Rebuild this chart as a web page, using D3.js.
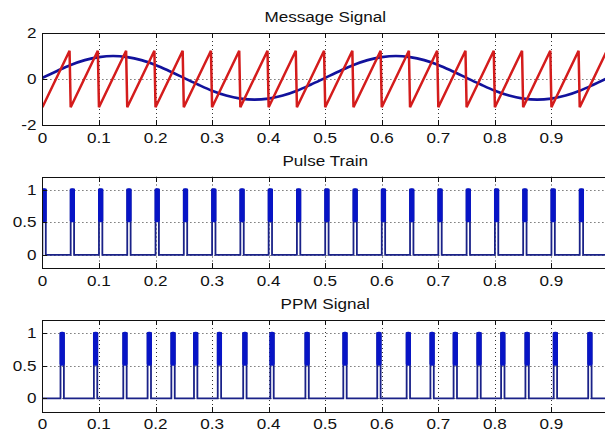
<!DOCTYPE html>
<html>
<head>
<meta charset="utf-8">
<script src="https://cdn.jsdelivr.net/npm/d3@7"></script>
<style>
  body { margin: 0; background: #fff; }
  svg { display: block; }
  text { font-family: "Liberation Sans", Arial, sans-serif; font-size: 14.5px; fill: #111; }
</style>
</head>
<body>
<svg id="chart" width="605" height="432"></svg>
<script>
// ---- data ----
const timeTicks = [0, 0.1, 0.2, 0.3, 0.4, 0.5, 0.6, 0.7, 0.8, 0.9, 1];
const timeTickLabels = ["0", "0.1", "0.2", "0.3", "0.4", "0.5", "0.6", "0.7", "0.8", "0.9"];

const panelTitles = ["Message Signal", "Pulse Train", "PPM Signal"];

const messageYTicks = [-2, 0, 2];
const messageYTickLabels = ["-2", "0", "2"];
const pulseYTicks = [0, 0.5, 1];
const pulseYTickLabels = ["0", "0.5", "1"];

// message (blue) sampled every 0.025 s
const messageTime = [0, 0.025, 0.05, 0.075, 0.1, 0.125, 0.15, 0.175, 0.2, 0.225,
  0.25, 0.275, 0.3, 0.325, 0.35, 0.375, 0.4, 0.425, 0.45, 0.475,
  0.5, 0.525, 0.55, 0.575, 0.6, 0.625, 0.65, 0.675, 0.7, 0.725,
  0.75, 0.775, 0.8, 0.825, 0.85, 0.875, 0.9, 0.925, 0.95, 0.975, 1];
const messageValue = [0.05, 0.34, 0.61, 0.82, 0.95, 1.00, 0.95, 0.82, 0.61, 0.34,
  0.05, -0.24, -0.51, -0.72, -0.85, -0.90, -0.85, -0.72, -0.51, -0.24,
  0.05, 0.34, 0.61, 0.82, 0.95, 1.00, 0.95, 0.82, 0.61, 0.34,
  0.05, -0.24, -0.51, -0.72, -0.85, -0.90, -0.85, -0.72, -0.51, -0.24, 0.05];

// sawtooth carrier (red): ramp from low to high, then fall back
const sawLowTime = [0, 0.05, 0.10, 0.15, 0.20, 0.25, 0.30, 0.35, 0.40, 0.45,
  0.50, 0.55, 0.60, 0.65, 0.70, 0.75, 0.80, 0.85, 0.90, 0.95, 1.00];
const sawHighTime = [0.048, 0.098, 0.148, 0.198, 0.248, 0.298, 0.348, 0.398, 0.448, 0.498,
  0.548, 0.598, 0.648, 0.698, 0.748, 0.798, 0.848, 0.898, 0.948, 0.998];
const sawLow = -1.23;
const sawHigh = 1.23;

// pulse start times (s) and pulse width (s)
const pulseWidth = 0.006;
const pulseTrainStart = [0, 0.05, 0.10, 0.15, 0.20, 0.25, 0.30, 0.35, 0.40, 0.45,
  0.50, 0.55, 0.60, 0.65, 0.70, 0.75, 0.80, 0.85, 0.90, 0.95];
const ppmStart = [0.032, 0.091, 0.143, 0.186, 0.228, 0.268, 0.310, 0.355, 0.403, 0.465,
  0.532, 0.592, 0.644, 0.686, 0.727, 0.769, 0.811, 0.854, 0.904, 0.965];

// ---- layout ----
const svg = d3.select("#chart");
const x = d3.scaleLinear().domain([0, 1]).range([42.4, 608]);
const panels = [
  { top: 33, bottom: 125, domain: [-2, 2], yTicks: messageYTicks, yLabels: messageYTickLabels },
  { top: 176.5, bottom: 268, domain: [-0.2, 1.2], yTicks: pulseYTicks, yLabels: pulseYTickLabels },
  { top: 320, bottom: 411.5, domain: [-0.2, 1.2], yTicks: pulseYTicks, yLabels: pulseYTickLabels }
];
const hStretch = 1.18;
const tickLen = 5;

const defs = svg.append("defs");

panels.forEach((p, i) => {
  p.y = d3.scaleLinear().domain(p.domain).range([p.bottom, p.top]);
  const id = "clip" + i;
  defs.append("clipPath").attr("id", id)
    .append("rect")
    .attr("x", x.range()[0]).attr("y", p.top)
    .attr("width", x.range()[1] - x.range()[0]).attr("height", p.bottom - p.top);
  p.g = svg.append("g");
  p.plot = p.g.append("g").attr("clip-path", `url(#${id})`);

  // dotted grid
  const grid = p.plot.append("g")
    .attr("stroke", "#333").attr("stroke-width", 1).attr("stroke-dasharray", "1,3");
  timeTicks.filter(t => t > 0 && t < 1).forEach(t => {
    grid.append("line")
      .attr("x1", Math.round(x(t)) + 0.5).attr("x2", Math.round(x(t)) + 0.5)
      .attr("y1", p.top).attr("y2", p.bottom);
  });
  p.yTicks.filter(v => v > p.domain[0] && v < p.domain[1]).forEach(v => {
    grid.append("line")
      .attr("x1", x.range()[0]).attr("x2", x.range()[1])
      .attr("y1", Math.round(p.y(v)) + 0.5).attr("y2", Math.round(p.y(v)) + 0.5);
  });

  // title
  svg.append("text")
    .attr("transform", `translate(${(x.range()[0] + x.range()[1]) / 2},${p.top - 11}) scale(${hStretch},1)`)
    .attr("text-anchor", "middle")
    .text(panelTitles[i]);
});

// ---- panel 1: message and sawtooth ----
{
  const p = panels[0];
  const msgLine = d3.line()
    .x(d => x(d[0])).y(d => p.y(d[1]))
    .curve(d3.curveCatmullRom);
  p.plot.append("path")
    .datum(messageTime.map((t, k) => [t, messageValue[k]]))
    .attr("d", msgLine)
    .attr("fill", "none").attr("stroke", "#12129c").attr("stroke-width", 2.7);

  const sawPts = [];
  sawHighTime.forEach((t, k) => {
    sawPts.push([sawLowTime[k], sawLow]);
    sawPts.push([t, sawHigh]);
  });
  sawPts.push([sawLowTime[sawLowTime.length - 1], sawLow]);
  p.plot.append("path")
    .datum(sawPts)
    .attr("d", d3.line().x(d => x(d[0])).y(d => p.y(d[1])))
    .attr("fill", "none").attr("stroke", "#d41c1c").attr("stroke-width", 2.5)
    .attr("stroke-linejoin", "miter");
}

// ---- panels 2 and 3: pulse signals ----
function drawPulses(p, starts) {
  const pts = [[0, 0]];
  starts.forEach(s => {
    pts.push([s, 0], [s, 1], [s + pulseWidth, 1], [s + pulseWidth, 0]);
  });
  pts.push([1, 0]);
  const thin = 1.8;
  p.plot.append("path")
    .datum(pts)
    .attr("d", d3.line().x(d => x(d[0])).y(d => p.y(d[1])))
    .attr("fill", "none").attr("stroke", "#1a2288").attr("stroke-width", thin);
  p.plot.append("g").selectAll("rect")
    .data(starts)
    .join("rect")
    .attr("x", s => x(s) - thin / 2)
    .attr("width", s => x(s + pulseWidth) - x(s) + thin)
    .attr("y", p.y(1) - 1.2)
    .attr("height", p.y(0.5) - p.y(1) + 1.2)
    .attr("rx", 2)
    .attr("fill", "#0714c6");
}
drawPulses(panels[1], pulseTrainStart);
drawPulses(panels[2], ppmStart);

// ---- axes boxes, ticks and labels ----
panels.forEach(p => {
  const axes = p.g.append("g").attr("stroke", "#111").attr("stroke-width", 1).attr("fill", "none");
  const x0 = x.range()[0], x1 = x.range()[1];
  axes.append("rect")
    .attr("x", Math.round(x0) + 0.5).attr("y", Math.round(p.top) + 0.5)
    .attr("width", Math.round(x1) - Math.round(x0)).attr("height", Math.round(p.bottom) - Math.round(p.top));
  timeTicks.forEach(t => {
    const xx = Math.round(x(t)) + 0.5;
    axes.append("line").attr("x1", xx).attr("x2", xx)
      .attr("y1", Math.round(p.bottom)).attr("y2", Math.round(p.bottom) - tickLen);
    axes.append("line").attr("x1", xx).attr("x2", xx)
      .attr("y1", Math.round(p.top)).attr("y2", Math.round(p.top) + tickLen);
  });
  p.yTicks.forEach(v => {
    const yy = Math.round(p.y(v)) + 0.5;
    axes.append("line").attr("x1", Math.round(x0)).attr("x2", Math.round(x0) + tickLen)
      .attr("y1", yy).attr("y2", yy);
  });

  // the last tick sits at the window edge, so only the labelled ticks get text
  timeTickLabels.forEach((lab, k) => {
    svg.append("text")
      .attr("transform", `translate(${x(timeTicks[k])},${p.bottom + 17.5}) scale(${hStretch},1)`)
      .attr("text-anchor", "middle")
      .text(lab);
  });
  p.yTicks.forEach((v, k) => {
    svg.append("text")
      .attr("transform", `translate(36.5,${p.y(v) + 5}) scale(${hStretch},1)`)
      .attr("text-anchor", "end")
      .text(p.yLabels[k]);
  });
});
</script>
</body>
</html>
